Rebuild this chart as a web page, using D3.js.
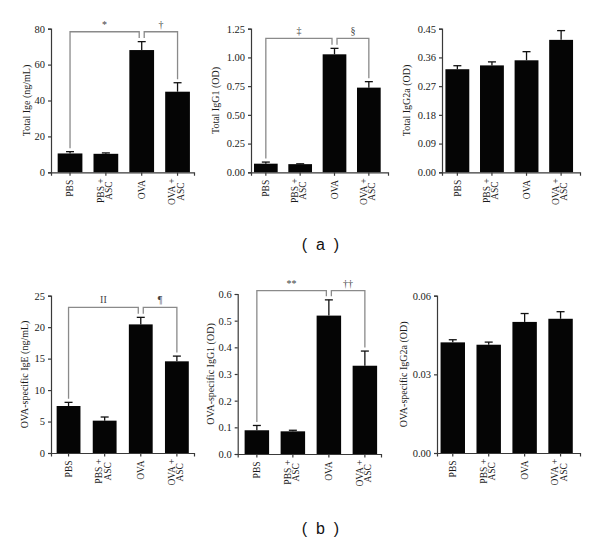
<!DOCTYPE html>
<html>
<head>
<meta charset="utf-8">
<script src="https://cdn.jsdelivr.net/npm/d3@7"></script>
<style>
  body { margin: 0; background: #fff; }
  svg { display: block; }
</style>
</head>
<body>
<script>
// categories (multi-line x labels)
var categories = [["PBS"], ["PBS +", "ASC"], ["OVA"], ["OVA +", "ASC"]];

// (a) total antibodies
var totalIgE = [10.5, 10.3, 68.1, 44.9];
var totalIgESem = [1.0, 0.5, 4.7, 5.0];
var totalIgETicks = [0, 20, 40, 60, 80];

var totalIgG1 = [0.075, 0.071, 1.027, 0.737];
var totalIgG1Sem = [0.014, 0.003, 0.052, 0.052];
var totalIgG1Ticks = [0, 0.25, 0.5, 0.75, 1.0, 1.25];

var totalIgG2a = [0.323, 0.335, 0.351, 0.415];
var totalIgG2aSem = [0.011, 0.011, 0.027, 0.029];
var totalIgG2aTicks = [0, 0.09, 0.18, 0.27, 0.36, 0.45];

// (b) OVA-specific antibodies
var ovaIgE = [7.47, 5.14, 20.44, 14.57];
var ovaIgESem = [0.58, 0.58, 1.12, 0.83];
var ovaIgETicks = [0, 5, 10, 15, 20, 25];

var ovaIgG1 = [0.089, 0.085, 0.519, 0.331];
var ovaIgG1Sem = [0.018, 0.004, 0.059, 0.055];
var ovaIgG1Ticks = [0, 0.1, 0.2, 0.3, 0.4, 0.5, 0.6];

var ovaIgG2a = [0.0422, 0.0413, 0.0500, 0.0512];
var ovaIgG2aSem = [0.0010, 0.0010, 0.0032, 0.0027];
var ovaIgG2aTicks = [0, 0.03, 0.06];

// significance brackets: [from, to, symbol]
var totalIgEBrackets = [[0, 2, "*"], [2, 3, "\u2020"]];
var totalIgG1Brackets = [[0, 2, "\u2021"], [2, 3, "\u00a7"]];
var ovaIgEBrackets = [[0, 2, "II"], [2, 3, "\u00b6"]];
var ovaIgG1Brackets = [[0, 2, "**"], [2, 3, "\u2020\u2020"]];

var panels = [
  {title: "Total Ige (ng/mL)", values: totalIgE, sem: totalIgESem, ticks: totalIgETicks, fmt: d3.format("d"),
   left: 51, right: 194, top: 28.7, bottom: 172.3, align: 0.62, pad: 0.31, labelX: 26,
   brackets: totalIgEBrackets, bracketAt: 78.3},
  {title: "Total IgG1 (OD)", values: totalIgG1, sem: totalIgG1Sem, ticks: totalIgG1Ticks, fmt: d3.format(".2f"),
   left: 251, right: 388, top: 28.7, bottom: 172.3, align: 0.29, pad: 0.31, labelX: 215,
   brackets: totalIgG1Brackets, bracketAt: 1.166},
  {title: "Total IgG2a (OD)", values: totalIgG2a, sem: totalIgG2aSem, ticks: totalIgG2aTicks, fmt: d3.format(".2f"),
   left: 442, right: 580, top: 28.7, bottom: 172.3, align: 0.33, pad: 0.31, labelX: 406,
   brackets: [], bracketAt: 0},
  {title: "OVA-specific IgE (ng/mL)", values: ovaIgE, sem: ovaIgESem, ticks: ovaIgETicks, fmt: d3.format("d"),
   left: 51, right: 194, top: 295.7, bottom: 453, align: 0.52, pad: 0.34, labelX: 24,
   brackets: ovaIgEBrackets, bracketAt: 23.15},
  {title: "OVA-specific IgG1 (OD)", values: ovaIgG1, sem: ovaIgG1Sem, ticks: ovaIgG1Ticks, fmt: d3.format(".1f"),
   left: 237.7, right: 381, top: 294, bottom: 454, align: 0.64, pad: 0.32, labelX: 210,
   brackets: ovaIgG1Brackets, bracketAt: 0.6125},
  {title: "OVA-specific IgG2a (OD)", values: ovaIgG2a, sem: ovaIgG2aSem, ticks: ovaIgG2aTicks, fmt: d3.format(".2f"),
   left: 437, right: 580, top: 295.7, bottom: 453, align: 0.33, pad: 0.32, labelX: 403,
   brackets: [], bracketAt: 0}
];

var svg = d3.select("body").append("svg").attr("width", 600).attr("height", 540);
svg.append("rect").attr("width", 600).attr("height", 540).attr("fill", "#fff");

var serif = "'Liberation Serif', 'DejaVu Serif', serif";
var axisColor = "#3a3a3a";
var textColor = "#1a1a1a";

panels.forEach(function(p) {
  var g = svg.append("g");
  var x = d3.scaleBand().domain(d3.range(categories.length)).range([p.left, p.right])
    .paddingInner(p.pad).paddingOuter(0.15).align(p.align);
  var y = d3.scaleLinear().domain([0, p.ticks[p.ticks.length - 1]]).range([p.bottom, p.top]);

  // bars
  g.selectAll("rect.bar").data(p.values).enter().append("rect")
    .attr("x", function(d, i) { return x(i); })
    .attr("y", function(d) { return y(d); })
    .attr("width", x.bandwidth())
    .attr("height", function(d) { return p.bottom - y(d); })
    .attr("fill", "#050505");

  // error bars (upper only)
  p.values.forEach(function(v, i) {
    var cx = x(i) + x.bandwidth() / 2, yt = y(v + p.sem[i]);
    g.append("line").attr("x1", cx).attr("x2", cx).attr("y1", y(v)).attr("y2", yt)
      .attr("stroke", "#111").attr("stroke-width", 1.3);
    g.append("line").attr("x1", cx - 4).attr("x2", cx + 4).attr("y1", yt).attr("y2", yt)
      .attr("stroke", "#111").attr("stroke-width", 1.3);
  });

  // y axis
  var yAxis = d3.axisLeft(y).tickValues(p.ticks).tickFormat(p.fmt).tickSizeOuter(0).tickSize(3).tickPadding(3);
  var ya = g.append("g").attr("transform", "translate(" + p.left + ",0)").call(yAxis);
  ya.select(".domain").attr("stroke", axisColor).attr("stroke-width", 1.2);
  ya.selectAll(".tick line").attr("stroke", axisColor).attr("stroke-width", 1.2);
  ya.selectAll(".tick text").attr("font-family", serif).attr("font-size", "10.5px").attr("fill", textColor);

  // x axis
  var xAxis = d3.axisBottom(x).tickFormat("").tickSizeOuter(0).tickSize(3.5);
  var xa = g.append("g").attr("transform", "translate(0," + p.bottom + ")").call(xAxis);
  xa.select(".domain").attr("stroke", axisColor).attr("stroke-width", 1.2);
  xa.selectAll(".tick line").attr("stroke", axisColor).attr("stroke-width", 1.2);

  // rotated category labels
  categories.forEach(function(lines, i) {
    var cx = x(i) + x.bandwidth() / 2;
    var y0 = p.bottom + 6;
    if (lines.length === 1) {
      g.append("text").attr("transform", "translate(" + cx + "," + (y0 + 1.5) + ") rotate(-90)")
        .attr("text-anchor", "end").attr("dy", "0.35em")
        .attr("font-family", serif).attr("font-size", "9.5px").attr("fill", textColor).text(lines[0]);
    } else {
      var t1 = g.append("text").attr("transform", "translate(" + (cx - 5.5) + "," + y0 + ") rotate(-90)")
        .attr("text-anchor", "end").attr("dy", "0.35em")
        .attr("font-family", serif).attr("font-size", "9.5px").attr("fill", textColor).text(lines[0]);
      var len = t1.node().getComputedTextLength();
      g.append("text").attr("transform", "translate(" + (cx + 3) + "," + (y0 + len / 2) + ") rotate(-90)")
        .attr("text-anchor", "middle").attr("dy", "0.35em")
        .attr("font-family", serif).attr("font-size", "9.5px").attr("fill", textColor).text(lines[1]);
    }
  });

  // y title
  g.append("text").attr("transform", "translate(" + p.labelX + "," + ((p.top + p.bottom) / 2) + ") rotate(-90)")
    .attr("text-anchor", "middle").attr("dy", "0.35em")
    .attr("font-family", serif).attr("font-size", "10px").attr("fill", textColor).text(p.title);

  // significance brackets
  p.brackets.forEach(function(b) {
    var a = b[0], c = b[1];
    var xa1 = x(a) + x.bandwidth() / 2 + (a === 2 ? 2.5 : 0);
    var xc1 = x(c) + x.bandwidth() / 2 - (c === 2 ? 2.5 : 0);
    var yb = y(p.bracketAt);
    var ya1 = y(p.values[a] + p.sem[a]) - 3.5;
    var yc1 = y(p.values[c] + p.sem[c]) - 3.5;
    g.append("path")
      .attr("d", "M" + xa1 + "," + ya1 + "V" + yb + "H" + xc1 + "V" + yc1)
      .attr("fill", "none").attr("stroke", "#8a8a8a").attr("stroke-width", 1.3);
    g.append("text").attr("x", (xa1 + xc1) / 2).attr("y", yb - 4)
      .attr("text-anchor", "middle").attr("font-family", serif).attr("font-size", "10px")
      .attr("fill", "#444").text(b[2]);
  });
});

// panel captions
var sans = "'Liberation Sans', Arial, sans-serif";
svg.append("text").attr("x", 321.5).attr("y", 250).attr("text-anchor", "middle")
  .attr("font-family", sans).attr("font-size", "16px").attr("letter-spacing", "2.2px").attr("fill", "#111").text("( a )");
svg.append("text").attr("x", 321.5).attr("y", 533.5).attr("text-anchor", "middle")
  .attr("font-family", sans).attr("font-size", "16px").attr("letter-spacing", "2.2px").attr("fill", "#111").text("( b )");
</script>
</body>
</html>
